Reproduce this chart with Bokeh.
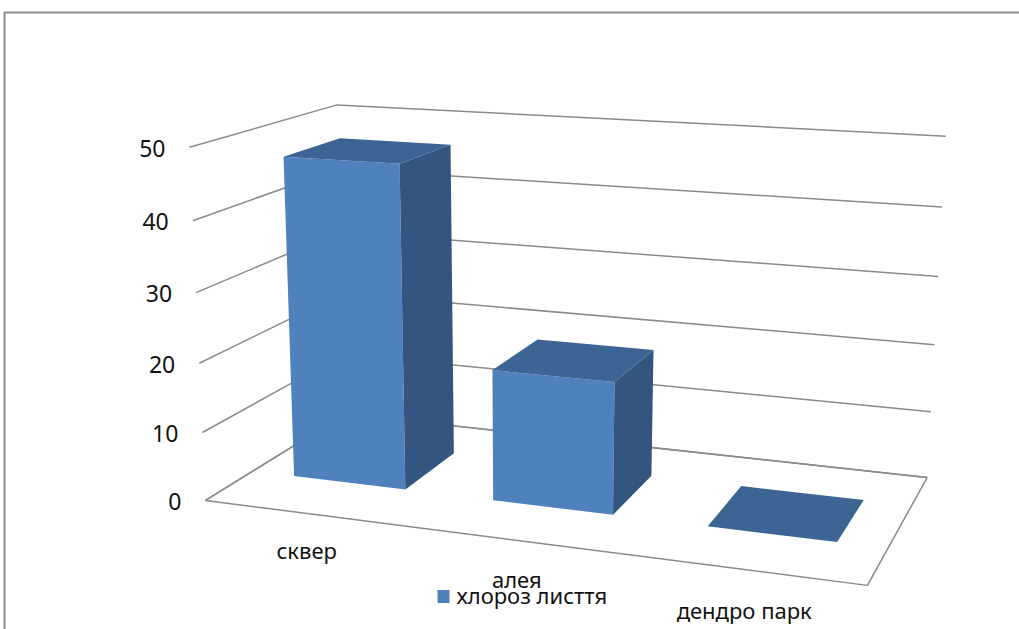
import numpy as np
from bokeh.plotting import figure
from bokeh.models import Range1d
from bokeh.core.properties import value
from bokeh.embed import file_html
from bokeh.resources import INLINE

W, H = 1019, 629

# ---- data ----
categories = ["сквер", "алея", "дендро парк"]
values = [47, 19, 0]
ticks = [0, 10, 20, 30, 40, 50]
series_name = "хлороз лисття"

# ---- 3D layout / camera (style constants) ----
Y_MAX = 50.0
N_CAT = len(categories)
GAP = 0.216          # gap on each side of a bar inside its category slot
Z_FRONT, Z_BACK = 0.31, 0.71   # bar depth inside the floor (0 = front, 1 = back)
# perspective projection matrix for normalised coords (x/N_CAT, y/Y_MAX, z, 1)
P = np.array([
    [564.51, -24.913, 190.56, 204.99],
    [19.223, -360.02, -24.962, 499.95],
    [-0.112334, -0.0468969, 0.148359, 1.0],
])

FRONT = "#4F81BD"
SIDE = "#33557F"
TOP = "#3C6594"
GRID = "#8A8A8A"
TEXT = "#111111"
FONT = value("Noto Sans")


def proj(x, y, z):
    w = P @ np.array([x / N_CAT, y / Y_MAX, z, 1.0])
    return w[0] / w[2], w[1] / w[2]


def poly(pts):
    q = [proj(*t) for t in pts]
    return [a for a, _ in q], [b for _, b in q]


p = figure(width=W, height=H, x_range=Range1d(0, W), y_range=Range1d(H, 0),
           output_backend="svg", toolbar_location=None, min_border=0,
           x_axis_location=None, y_axis_location=None)
p.grid.visible = False
p.outline_line_color = None
p.background_fill_color = "white"
p.border_fill_color = "white"

# chart-area border (only top and left edges fall inside the picture)
p.line([4, 4, W + 20], [H + 20, 12, 12], line_color="#8C8C8C", line_width=2)

# floor
fx, fy = poly([(0, 0, 0), (N_CAT, 0, 0), (N_CAT, 0, 1), (0, 0, 1)])
p.patch(fx, fy, fill_color="white", line_color=GRID, line_width=1.5)

# gridlines on left and back walls
for t in ticks:
    gx, gy = poly([(0, t, 0), (0, t, 1), (N_CAT, t, 1)])
    p.line(gx, gy, line_color=GRID, line_width=1.5)

# value tick labels
tx, ty, tt = [], [], []
for t in ticks:
    x0, y0 = proj(0, t, 0)
    tx.append(x0 - 24)
    ty.append(y0 + 1)
    tt.append(str(t))
p.text(tx, ty, text=tt, text_align="right", text_baseline="middle",
       text_font=FONT, text_font_size="23px", text_color=TEXT)

# bars
fronts_x, fronts_y, sides_x, sides_y, tops_x, tops_y = [], [], [], [], [], []
for i, v in enumerate(values):
    x0, x1 = i + GAP, i + 1 - GAP
    if v > 0:
        a, b = poly([(x0, 0, Z_FRONT), (x1, 0, Z_FRONT), (x1, v, Z_FRONT), (x0, v, Z_FRONT)])
        fronts_x.append(a); fronts_y.append(b)
        a, b = poly([(x1, 0, Z_FRONT), (x1, 0, Z_BACK), (x1, v, Z_BACK), (x1, v, Z_FRONT)])
        sides_x.append(a); sides_y.append(b)
    a, b = poly([(x0, v, Z_FRONT), (x1, v, Z_FRONT), (x1, v, Z_BACK), (x0, v, Z_BACK)])
    tops_x.append(a); tops_y.append(b)

p.patches(fronts_x, fronts_y, fill_color=FRONT, line_color=None)
p.patches(sides_x, sides_y, fill_color=SIDE, line_color=None)
p.patches(tops_x, tops_y, fill_color=TOP, line_color=None)

# category labels
cx, cy = [], []
for i, c in enumerate(categories):
    a, b = proj(i + 0.5, -6.7, 0)
    cx.append(a); cy.append(b - 9)
p.text(cx, cy, text=categories, text_align="center", text_baseline="alphabetic",
       text_font=FONT, text_font_size="22px", text_color=TEXT)

# legend
p.rect([443], [596], width=12, height=13, fill_color=FRONT, line_color=None)
p.text([456], [594], text=[series_name], text_align="left", text_baseline="alphabetic",
       text_font=FONT, text_font_size="22px", text_color=TEXT)

open("out.html", "w").write(file_html(p, INLINE))
